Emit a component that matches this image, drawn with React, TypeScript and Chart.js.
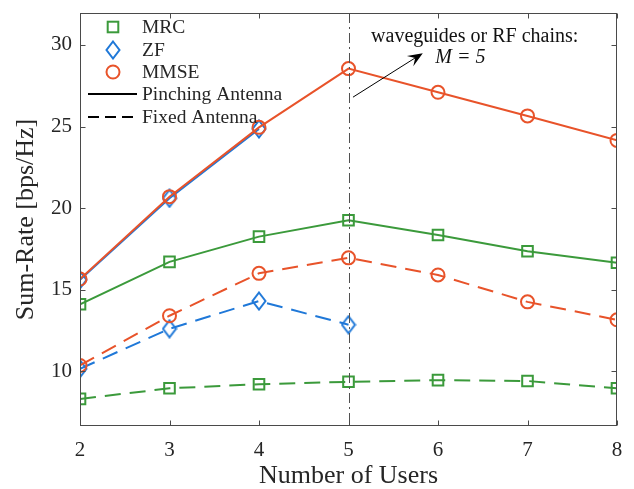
import { useEffect, useRef } from 'react';
import { Chart, registerables } from 'chart.js';

Chart.register(...registerables);

// Number of users on the x axis
const users = [2, 3, 4, 5, 6, 7, 8];
const zfUsers = [2, 3, 4];
const zfFixedUsers = [2, 3, 4, 5];

// Sum-rate [bps/Hz], pinching antenna (solid)
const mrcPinching = [14.1, 16.7, 18.25, 19.25, 18.35, 17.35, 16.65];
const zfPinching = [15.6, 20.6, 24.85];
const mmsePinching = [15.65, 20.7, 24.95, 28.55, 27.1, 25.65, 24.15];

// Sum-rate [bps/Hz], fixed antenna (dashed)
const mrcFixed = [8.3, 8.95, 9.2, 9.35, 9.45, 9.4, 8.95];
const zfFixed = [10.15, 12.6, 14.3, 12.85];
const mmseFixed = [10.35, 13.4, 16.0, 16.95, 15.9, 14.25, 13.15];

const yTickValues = [10, 15, 20, 25, 30];
const yMin = 6.64;
const yMax = 31.96;
const refUsers = 5; // waveguides / RF chains M

const SERIF = "'Liberation Serif', 'Times New Roman', Times, serif";
const GREEN = '#3b9a3b';
const BLUE = '#1f78d8';
const ORANGE = '#e8532a';
const AXIS = '#4a4a4a';
const TEXT = '#262626';
const DASH = [16, 9];

function makeDiamond(color: string): HTMLCanvasElement {
  const c = document.createElement('canvas');
  c.width = 16;
  c.height = 20;
  const g = c.getContext('2d')!;
  g.strokeStyle = color;
  g.lineWidth = 2;
  g.beginPath();
  g.moveTo(8, 1.5);
  g.lineTo(14.5, 10);
  g.lineTo(8, 18.5);
  g.lineTo(1.5, 10);
  g.closePath();
  g.stroke();
  return c;
}

function pts(xs: number[], ys: number[]) {
  return xs.map((x, i) => ({ x, y: ys[i] }));
}

export default function App() {
  const ref = useRef<HTMLCanvasElement>(null);

  useEffect(() => {
    document.body.style.margin = '0';
    const diamond = makeDiamond(BLUE);

    const series = (
      label: string,
      data: { x: number; y: number }[],
      color: string,
      style: any,
      radius: number,
      dashed: boolean
    ) => ({
      label,
      data,
      borderColor: color,
      backgroundColor: 'rgba(0,0,0,0)',
      borderWidth: 2,
      borderDash: dashed ? DASH : [],
      pointStyle: style,
      pointRadius: radius,
      pointBorderWidth: 2,
      pointBorderColor: color,
      pointBackgroundColor: 'rgba(0,0,0,0)',
      tension: 0,
      fill: false,
    });

    const decorations = {
      id: 'decorations',
      afterDatasetsDraw(chart: any) {
        const { ctx, chartArea: a, scales } = chart;
        const px = scales.x.getPixelForValue(refUsers);
        ctx.save();
        ctx.strokeStyle = '#505050';
        ctx.lineWidth = 1;
        ctx.setLineDash([10, 4, 2, 4]);
        ctx.beginPath();
        ctx.moveTo(Math.round(px) + 0.5, a.top);
        ctx.lineTo(Math.round(px) + 0.5, a.bottom);
        ctx.stroke();
        ctx.restore();
      },
      afterDraw(chart: any) {
        const { ctx, chartArea: a, scales } = chart;
        const xs = scales.x;
        const ys = scales.y;
        ctx.save();
        // axes box
        ctx.strokeStyle = AXIS;
        ctx.lineWidth = 1;
        ctx.setLineDash([]);
        const L = Math.round(a.left) + 0.5;
        const R = Math.round(a.right) - 0.5;
        const T = Math.round(a.top) + 0.5;
        const B = Math.round(a.bottom) - 0.5;
        ctx.strokeRect(L, T, R - L, B - T);
        const tl = 5;
        ctx.beginPath();
        users.forEach((u) => {
          const p = Math.round(xs.getPixelForValue(u)) + 0.5;
          ctx.moveTo(p, B);
          ctx.lineTo(p, B - tl);
          ctx.moveTo(p, T);
          ctx.lineTo(p, T + tl);
        });
        yTickValues.forEach((v) => {
          const p = Math.round(ys.getPixelForValue(v)) + 0.5;
          ctx.moveTo(L, p);
          ctx.lineTo(L + tl, p);
          ctx.moveTo(R, p);
          ctx.lineTo(R - tl, p);
        });
        ctx.stroke();

        // annotation arrow and text
        const ax0 = xs.getPixelForValue(5.05);
        const ay0 = ys.getPixelForValue(26.8);
        const ax1 = xs.getPixelForValue(5.83);
        const ay1 = ys.getPixelForValue(29.5);
        const ang = Math.atan2(ay1 - ay0, ax1 - ax0);
        ctx.strokeStyle = '#000';
        ctx.fillStyle = '#000';
        ctx.lineWidth = 1;
        ctx.beginPath();
        ctx.moveTo(ax0, ay0);
        ctx.lineTo(ax1 - 8 * Math.cos(ang), ay1 - 8 * Math.sin(ang));
        ctx.stroke();
        const hl = 15;
        const hw = 6;
        const bx = ax1 - hl * Math.cos(ang);
        const by = ay1 - hl * Math.sin(ang);
        ctx.beginPath();
        ctx.moveTo(ax1, ay1);
        ctx.lineTo(bx - hw * Math.sin(ang), by + hw * Math.cos(ang));
        ctx.lineTo(ax1 - 0.6 * hl * Math.cos(ang), ay1 - 0.6 * hl * Math.sin(ang));
        ctx.lineTo(bx + hw * Math.sin(ang), by - hw * Math.cos(ang));
        ctx.closePath();
        ctx.fill();

        ctx.fillStyle = '#111';
        ctx.textAlign = 'center';
        ctx.textBaseline = 'middle';
        ctx.font = `20px ${SERIF}`;
        ctx.fillText('waveguides or RF chains:', xs.getPixelForValue(6.41), ys.getPixelForValue(30.49));
        ctx.font = `italic 20px ${SERIF}`;
        ctx.fillText('M = 5', xs.getPixelForValue(6.25), ys.getPixelForValue(29.23));

        // legend
        const mx = 113;
        const tx = 142;
        const rows = [27, 50, 72, 94, 117];
        ctx.font = `19.5px ${SERIF}`;
        ctx.textAlign = 'left';
        ctx.fillStyle = TEXT;
        const labels = ['MRC', 'ZF', 'MMSE', 'Pinching Antenna', 'Fixed Antenna'];
        labels.forEach((t, i) => ctx.fillText(t, tx, rows[i] + 1));
        ctx.lineWidth = 2;
        ctx.strokeStyle = GREEN;
        ctx.strokeRect(mx - 5.3, rows[0] - 5.3, 10.6, 10.6);
        ctx.drawImage(diamond, mx - 8, rows[1] - 10);
        ctx.strokeStyle = ORANGE;
        ctx.beginPath();
        ctx.arc(mx, rows[2], 6.5, 0, Math.PI * 2);
        ctx.stroke();
        ctx.strokeStyle = '#000';
        ctx.beginPath();
        ctx.moveTo(88, rows[3]);
        ctx.lineTo(137, rows[3]);
        ctx.stroke();
        ctx.setLineDash([11, 6]);
        ctx.beginPath();
        ctx.moveTo(88, rows[4]);
        ctx.lineTo(137, rows[4]);
        ctx.stroke();
        ctx.restore();
      },
    };

    const chart = new Chart(ref.current!, {
      type: 'line',
      data: {
        datasets: [
          series('MMSE', pts(users, mmsePinching), ORANGE, 'circle', 6.5, false),
          series('ZF', pts(zfUsers, zfPinching), BLUE, diamond, 8, false),
          series('MMSE fixed', pts(users, mmseFixed), ORANGE, 'circle', 6.5, true),
          series('ZF fixed', pts(zfFixedUsers, zfFixed), BLUE, diamond, 8, true),
          series('MRC', pts(users, mrcPinching), GREEN, 'rect', 7.5, false),
          series('MRC fixed', pts(users, mrcFixed), GREEN, 'rect', 7.5, true),
        ] as any,
      },
      options: {
        responsive: false,
        animation: false,
        devicePixelRatio: 1,
        events: [],
        layout: { padding: { top: 13, right: 17, left: 0, bottom: 0 } },
        plugins: { legend: { display: false }, tooltip: { enabled: false } },
        scales: {
          x: {
            type: 'linear',
            min: 2,
            max: 8,
            grid: { display: false, drawTicks: false },
            border: { display: false },
            ticks: {
              stepSize: 1,
              padding: 12,
              color: TEXT,
              font: { family: SERIF, size: 21 },
            },
            title: {
              display: true,
              text: 'Number of Users',
              color: TEXT,
              font: { family: SERIF, size: 26, lineHeight: 1 },
              padding: { top: 0, bottom: 0 },
            },
            afterFit: (s: any) => {
              s.height = 63;
              s.paddingLeft = 0;
              s.paddingRight = 0;
            },
          },
          y: {
            type: 'linear',
            min: yMin,
            max: yMax,
            grid: { display: false, drawTicks: false },
            border: { display: false },
            afterBuildTicks: (s: any) => {
              s.ticks = yTickValues.map((v) => ({ value: v }));
            },
            ticks: {
              padding: 8,
              color: TEXT,
              font: { family: SERIF, size: 21 },
            },
            title: {
              display: true,
              text: 'Sum-Rate [bps/Hz]',
              color: TEXT,
              font: { family: SERIF, size: 26, lineHeight: 1 },
              padding: { top: 13, bottom: 0 },
            },
            afterFit: (s: any) => {
              s.width = 80;
              s.paddingTop = 0;
              s.paddingBottom = 0;
            },
          },
        },
      },
      plugins: [decorations],
    });

    return () => chart.destroy();
  }, []);

  return (
    <div style={{ width: 634, height: 489, background: '#fff' }}>
      <canvas ref={ref} width={634} height={489} />
    </div>
  );
}
